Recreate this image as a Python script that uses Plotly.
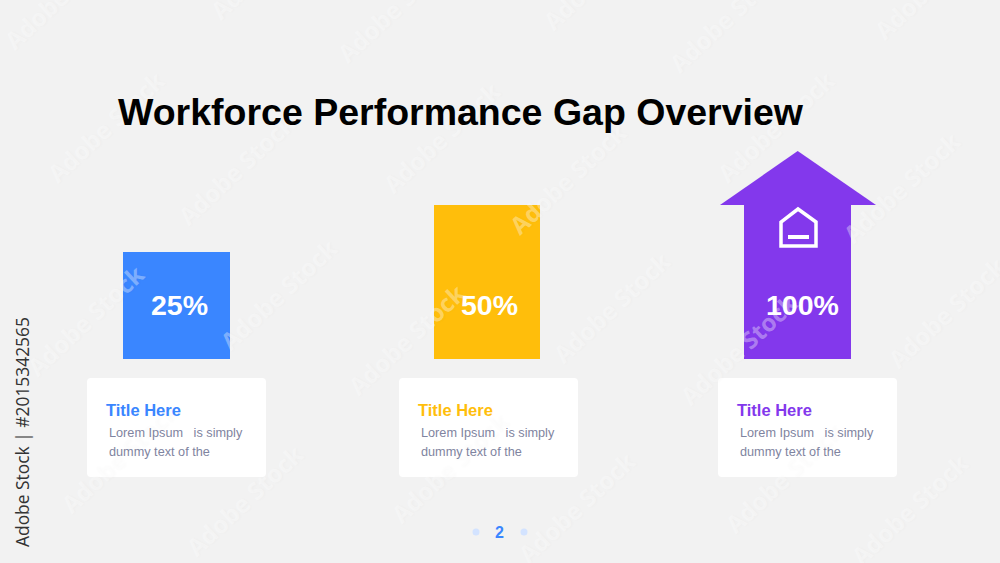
import plotly.graph_objects as go

# bar values (height in px above the baseline)
categories = ["25%", "50%", "100%"]
bar_heights = [107, 154, 154]
bar_colors = ["#3A86FF", "#FFBE0B", "#8338EC"]
value_labels = ["25%", "50%", "100%"]
label_px = [179.5, 489, 802]
card_titles = ["Title Here", "Title Here", "Title Here"]
card_lines_1 = ["Lorem Ipsum \u00a0\u00a0is simply"] * 3
card_lines_2 = ["dummy text of the"] * 3
page_title = "Workforce Performance Gap Overview"
stock_label = "Adobe Stock | #2015342565"
page_number = "2"
watermark_text = "Adobe Stock"

W, H = 1000, 563
BASE_PX = 358.5


def px_x(x):
    return x / W


def px_y(y):
    return 1 - y / H


def rounded_box(x0, y0, x1, y1, r=4):
    return (f"M{px_x(x0 + r)},{px_y(y0)} L{px_x(x1 - r)},{px_y(y0)} "
            f"Q{px_x(x1)},{px_y(y0)} {px_x(x1)},{px_y(y0 + r)} "
            f"L{px_x(x1)},{px_y(y1 - r)} Q{px_x(x1)},{px_y(y1)} {px_x(x1 - r)},{px_y(y1)} "
            f"L{px_x(x0 + r)},{px_y(y1)} Q{px_x(x0)},{px_y(y1)} {px_x(x0)},{px_y(y1 - r)} "
            f"L{px_x(x0)},{px_y(y0 + r)} Q{px_x(x0)},{px_y(y0)} {px_x(x0 + r)},{px_y(y0)} Z")


def poly(points, close=True):
    d = "M" + " L".join(f"{px_x(x)},{px_y(y)}" for x, y in points)
    return d + (" Z" if close else "")


fig = go.Figure()
fig.add_trace(go.Bar(x=categories, y=bar_heights, marker=dict(color=bar_colors, line=dict(width=0)),
                     width=0.343, hoverinfo="skip", showlegend=False))

shapes = []
annotations = []

# white cards under the bars
card_boxes = [(87, 378, 266, 477), (399, 378, 578, 477), (718, 378, 897, 477)]
for box in card_boxes:
    shapes.append(dict(type="path", xref="paper", yref="paper", path=rounded_box(*box),
                       fillcolor="#FFFFFF", line=dict(width=0), layer="below"))

# arrow head on the last bar
shapes.append(dict(type="path", xref="paper", yref="paper",
                   path=poly([(720, 205), (797.7, 151), (876, 205)]),
                   fillcolor=bar_colors[2], line=dict(width=0), layer="above"))

# house icon
shapes.append(dict(type="path", xref="paper", yref="paper",
                   path=poly([(781, 246), (781, 222), (798, 209), (816, 222), (816, 246)]),
                   fillcolor="rgba(0,0,0,0)", line=dict(color="#FFFFFF", width=3.5), layer="above"))
shapes.append(dict(type="line", xref="paper", yref="paper", x0=px_x(788), x1=px_x(809),
                   y0=px_y(237), y1=px_y(237), line=dict(color="#FFFFFF", width=4), layer="above"))

# pager dots
for cx in [476, 524]:
    shapes.append(dict(type="circle", xref="paper", yref="paper", x0=px_x(cx - 3.5), x1=px_x(cx + 3.5),
                       y0=px_y(532 - 3.5), y1=px_y(532 + 3.5), fillcolor="#D3E3FF", line=dict(width=0),
                       layer="below"))


def note(text, x, y, size, color, bold=False, anchor="left", family="Liberation Sans", angle=0, shadow=None):
    font = dict(family=family, size=size, color=color)
    if shadow:
        font["shadow"] = shadow
    annotations.append(dict(text=f"<b>{text}</b>" if bold else text, xref="paper", yref="paper",
                            x=px_x(x), y=px_y(y), xanchor=anchor, yanchor="middle", showarrow=False,
                            textangle=angle, font=font))


# faint diagonal watermark tiles
watermark_spots = [(63, -6), (269, -36), (396, 7), (601, -26), (728, 17), (933, -16),
                   (106, 127), (236, 169), (278, 294), (85, 320), (441, 137), (568, 179),
                   (611, 307), (406, 339), (776, 127), (901, 187), (946, 312), (738, 349),
                   (119, 457), (244, 500), (449, 467), (576, 507), (783, 477), (909, 509)]
for spot in watermark_spots:
    note(watermark_text, spot[0], spot[1], 24, "rgba(255,255,255,0.36)", bold=True, anchor="center",
         family="Open Sans", angle=-43, shadow="1px 1px 3px rgba(0,0,0,0.06)")

note(page_title, 116, 112, 37.5, "#000000", bold=True)
note(stock_label, 22, 432, 17.4, "#333333", anchor="center", family="Open Sans", angle=-90)
note(page_number, 499.5, 532, 16, "#3A86FF", bold=True, anchor="center")

for i, txt in enumerate(value_labels):
    note(txt, label_px[i], 305, 28.5, "#FFFFFF", bold=True, anchor="center")

title_px = [104, 416, 735]
body_px = [107, 419, 738]
for i in range(3):
    note(card_titles[i], title_px[i], 410, 16.5, bar_colors[i], bold=True)
    note(card_lines_1[i], body_px[i], 432.5, 12.7, "#7F84A0")
    note(card_lines_2[i], body_px[i], 451.5, 12.7, "#7F84A0")

fig.update_layout(
    width=W, height=H,
    margin=dict(l=0, r=0, t=0, b=0),
    paper_bgcolor="#F2F2F2",
    plot_bgcolor="rgba(0,0,0,0)",
    showlegend=False,
    bargap=0,
    shapes=shapes,
    annotations=annotations,
    # axes set so the first bar centres at 176.5px and the baseline sits at 358.5px
    xaxis=dict(visible=False, range=[-0.5684, 2.6522], categoryorder="array", categoryarray=categories),
    yaxis=dict(visible=False, range=[BASE_PX - H, BASE_PX]),
)

fig.write_html("out.html", config=dict(displayModeBar=False),
               post_script="document.body.style.margin='0';document.body.style.background='#F2F2F2';")
